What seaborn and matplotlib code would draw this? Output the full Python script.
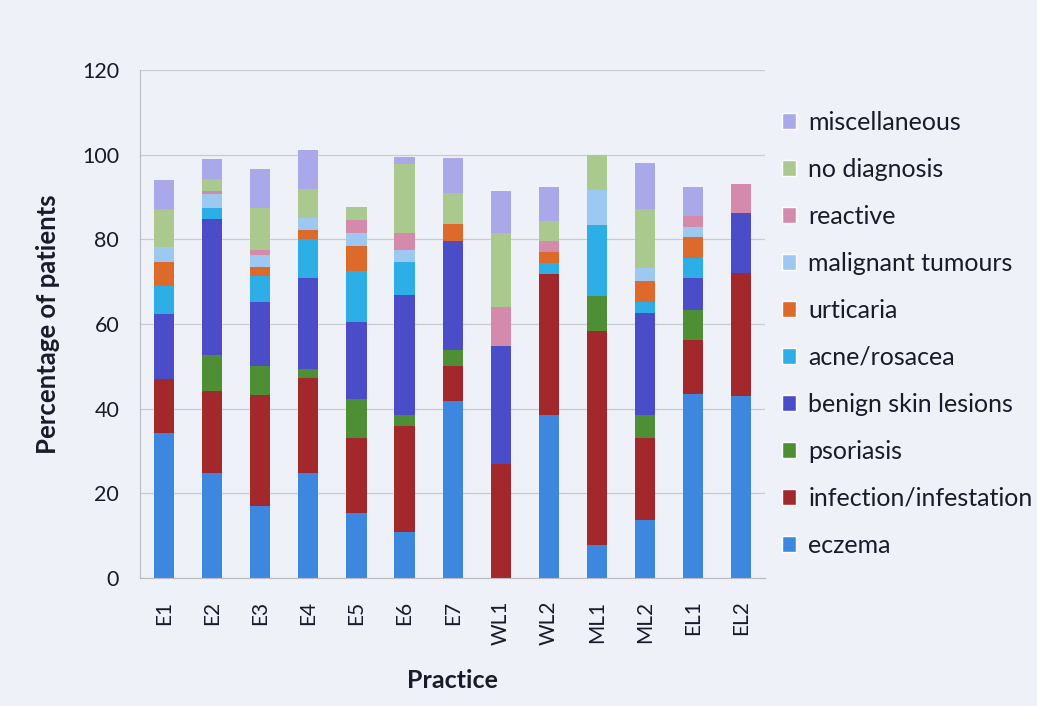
import matplotlib
matplotlib.use("Agg")
import matplotlib.pyplot as plt
import seaborn as sns
import numpy as np
from matplotlib.patches import Patch

practices = ["E1", "E2", "E3", "E4", "E5", "E6", "E7", "WL1", "WL2", "ML1", "ML2", "EL1", "EL2"]

# percentages per diagnosis group, bottom of the stack first
eczema      = [34.2, 24.9, 17.0, 24.9, 15.3, 10.9, 41.8, 0.0, 38.5, 7.9, 13.7, 43.6, 43.0]
infection   = [12.8, 19.4, 26.2, 22.3, 17.8, 25.0, 8.3, 26.9, 33.2, 50.5, 19.3, 12.6, 29.0]
psoriasis   = [0.0, 8.4, 7.0, 2.1, 9.3, 2.6, 3.8, 0.0, 0.0, 8.2, 5.5, 7.1, 0.0]
benign      = [15.3, 32.1, 14.9, 21.5, 18.1, 28.4, 25.6, 27.9, 0.0, 0.0, 24.0, 7.5, 14.2]
acne        = [6.8, 2.5, 6.2, 9.2, 12.0, 7.8, 0.0, 0.0, 2.8, 16.8, 2.8, 4.7, 0.0]
urticaria   = [5.6, 0.0, 2.2, 2.2, 5.9, 0.0, 4.1, 0.0, 2.4, 0.0, 4.9, 5.0, 0.0]
malignant   = [3.4, 3.3, 2.8, 2.8, 3.2, 2.8, 0.0, 0.0, 0.0, 8.3, 3.1, 2.3, 0.0]
reactive    = [0.0, 0.7, 1.2, 0.0, 3.0, 4.1, 0.0, 9.3, 2.6, 0.0, 0.0, 2.6, 6.8]
no_diag     = [9.1, 2.9, 9.8, 6.8, 3.1, 16.2, 7.4, 17.5, 4.9, 8.2, 13.8, 0.0, 0.0]
misc        = [6.7, 4.7, 9.2, 9.3, 0.0, 1.6, 8.1, 9.7, 8.0, 0.0, 11.0, 7.0, 0.0]

series = [
    ("eczema", eczema, "#3d87e0"),
    ("infection/infestation", infection, "#a3282c"),
    ("psoriasis", psoriasis, "#4e8f36"),
    ("benign skin lesions", benign, "#4a4cc8"),
    ("acne/rosacea", acne, "#2eaee6"),
    ("urticaria", urticaria, "#dd6a2a"),
    ("malignant tumours", malignant, "#9cc8f2"),
    ("reactive", reactive, "#d48aab"),
    ("no diagnosis", no_diag, "#a9c98e"),
    ("miscellaneous", misc, "#a9a9ea"),
]

bg = "#eef2f8"
sns.set_style("white")
plt.rcParams["font.family"] = ["Lato", "DejaVu Sans"]

fig = plt.figure(figsize=(10.37, 7.06), dpi=100, facecolor=bg)
ax = fig.add_axes([0.135, 0.181, 0.603, 0.72])
ax.set_facecolor(bg)

bottom = np.zeros(len(practices))
for name, vals, col in series:
    sns.barplot(x=practices, y=vals, bottom=bottom, color=col, width=0.42,
                ax=ax, saturation=1, linewidth=0)
    bottom = bottom + np.array(vals)

ax.set_ylim(0, 120)
ax.set_yticks(range(0, 121, 20))
ax.set_xlim(-0.5, len(practices) - 0.5)
ax.yaxis.grid(True, color="#c8ccd2", linewidth=0.9)
ax.set_axisbelow(True)
for s in ["top", "right"]:
    ax.spines[s].set_visible(False)
ax.spines["left"].set_color("#b8bcc2")
ax.spines["bottom"].set_color("#b8bcc2")

ax.tick_params(axis="y", labelsize=15.5, colors="#1a1a2a", length=5, color="#b8bcc2", pad=10)
ax.tick_params(axis="x", labelsize=15, colors="#1a1a2a", length=0, pad=16, rotation=90)
ax.set_xticks(np.arange(-0.5, len(practices)), minor=True)
ax.tick_params(axis="x", which="minor", length=5, color="#b8bcc2")

ax.set_xlabel("Practice", fontsize=18, fontweight="bold", color="#1a1a2a", labelpad=17)
ax.set_ylabel("Percentage of patients", fontsize=18.5, fontweight="bold", color="#1a1a2a", labelpad=16)

handles = [Patch(facecolor=col, label=name) for name, vals, col in reversed(series)]
fig.legend(handles=handles, loc="upper left", bbox_to_anchor=(0.754, 0.843),
           frameon=False, fontsize=18, handlelength=0.55, handleheight=0.55,
           handletextpad=0.5, labelspacing=0.96, labelcolor="#1a1a2a",
           borderpad=0, borderaxespad=0)

fig.savefig("out.png", dpi=100, facecolor=bg)
